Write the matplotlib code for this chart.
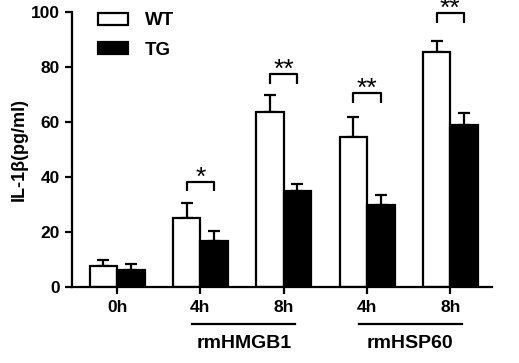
import matplotlib
matplotlib.use("Agg")
import matplotlib.pyplot as plt
from matplotlib.patches import Patch
import numpy as np

# data
tick_labels = ["0h", "4h", "8h", "4h", "8h"]
wt_mean = [7.5, 25.2, 63.6, 54.5, 85.5]
wt_err = [2.2, 5.5, 6.1, 7.3, 4.0]
tg_mean = [6.3, 16.7, 34.8, 29.7, 58.8]
tg_err = [2.2, 3.7, 2.5, 3.6, 4.5]
sig_groups = [1, 2, 3, 4]
sig_marks = ["*", "**", "**", "**"]
sig_heights = [38.2, 77.3, 70.3, 99.4]
treatments = ["rmHMGB1", "rmHSP60"]
treatment_span = [(0.9, 2.14), (2.9, 4.14)]

plt.rcParams.update({
    "font.family": ["Liberation Sans", "DejaVu Sans"],
    "font.weight": "bold",
    "axes.linewidth": 1.6,
})

fig = plt.figure(figsize=(5.19, 3.63), dpi=100)
ax = fig.add_axes([0.139, 0.209, 0.809, 0.759])

x = np.arange(len(tick_labels))
w = 0.33
ax.bar(x - w / 2, wt_mean, w, color="white", edgecolor="black", linewidth=1.6, zorder=2)
ax.bar(x + w / 2, tg_mean, w, color="black", edgecolor="black", linewidth=1.6, zorder=2)
ax.errorbar(x - w / 2, wt_mean, yerr=[np.zeros(5), wt_err], fmt="none",
            ecolor="black", capsize=4.5, elinewidth=1.6, capthick=1.6, zorder=1)
ax.errorbar(x + w / 2, tg_mean, yerr=[np.zeros(5), tg_err], fmt="none",
            ecolor="black", capsize=4.5, elinewidth=1.6, capthick=1.6, zorder=1)

leg = 3.4
for g, m, h in zip(sig_groups, sig_marks, sig_heights):
    ax.plot([g - w / 2, g - w / 2, g + w / 2, g + w / 2], [h - leg, h, h, h - leg],
            color="black", lw=1.6, clip_on=False, solid_capstyle="butt")
    ax.text(g, h - 1.0, m, ha="center", va="baseline", fontsize=19,
            fontweight="normal", clip_on=False)

ax.set_xlim(-0.54, 4.5)
ax.set_ylim(0, 100)
ax.set_yticks([0, 20, 40, 60, 80, 100])
ax.set_xticks(x)
ax.set_xticklabels(tick_labels)
ax.tick_params(labelsize=12.5, width=1.6, length=5, pad=4)
for lab in ax.get_xticklabels() + ax.get_yticklabels():
    lab.set_fontweight("bold")
ax.spines["top"].set_visible(False)
ax.spines["right"].set_visible(False)
ax.set_ylabel("IL-1β(pg/ml)", fontsize=13, fontweight="bold", labelpad=2)

for name, (a, b) in zip(treatments, treatment_span):
    ax.plot([a, b], [-0.134, -0.134], color="black", lw=1.6,
            transform=ax.get_xaxis_transform(), clip_on=False)
    ax.text((a + b) / 2, -0.205, name, ha="center", va="center", fontsize=14,
            fontweight="bold", transform=ax.get_xaxis_transform())

handles = [Patch(facecolor="white", edgecolor="black", linewidth=1.6, label="WT"),
           Patch(facecolor="black", edgecolor="black", linewidth=1.6, label="TG")]
ax.legend(handles=handles, loc="upper left", bbox_to_anchor=(0.03, 1.045),
          frameon=False, fontsize=13.5, handlelength=1.6, handleheight=0.6,
          labelspacing=0.65, handletextpad=0.9, borderpad=0.2)

fig.savefig("out.png", dpi=100, facecolor="white")
